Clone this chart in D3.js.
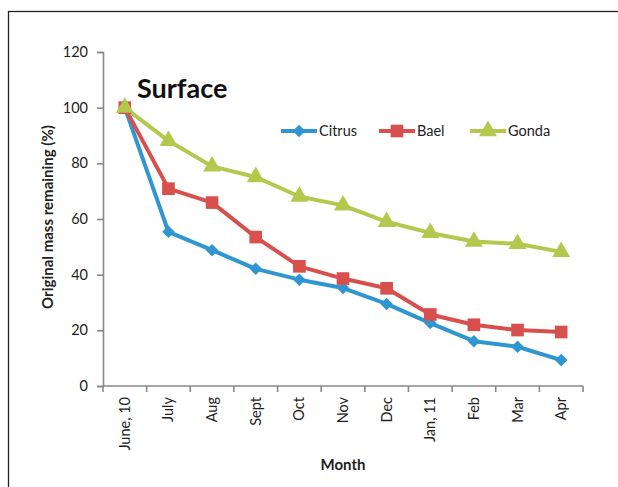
<!DOCTYPE html>
<html>
<head>
<meta charset="utf-8">
<script src="https://cdn.jsdelivr.net/npm/d3@7"></script>
<style>
  body { margin: 0; background: #fff; }
  text { font-family: Lato, "Open Sans", sans-serif; }
</style>
</head>
<body>
<div id="chart"></div>
<script>
// data
const months = ['June, 10', 'July', 'Aug', 'Sept', 'Oct', 'Nov', 'Dec', 'Jan, 11', 'Feb', 'Mar', 'Apr'];
const citrus = [100, 55.4, 48.8, 42.1, 38.2, 35.2, 29.5, 22.6, 16.1, 14.1, 9.3];
const bael = [100, 70.9, 65.9, 53.5, 43.0, 38.6, 35.1, 25.7, 22.0, 20.1, 19.4];
const gonda = [100, 88.1, 78.9, 75.1, 68.1, 64.9, 59.0, 55.0, 51.9, 51.1, 48.2];
const yTicks = [0, 20, 40, 60, 80, 100, 120];

const series = [
  {name: 'Citrus', values: citrus, color: '#2F96D2', symbol: 'diamond'},
  {name: 'Bael', values: bael, color: '#D8504D', symbol: 'square'},
  {name: 'Gonda', values: gonda, color: '#B2C94E', symbol: 'triangle'}
];

const width = 618, height = 487;
const margin = {top: 52, right: 35, bottom: 101, left: 103};

const svg = d3.select('#chart').append('svg')
  .attr('width', width)
  .attr('height', height);

// outer frame
svg.append('rect')
  .attr('x', 8.5).attr('y', 11.5)
  .attr('width', 640).attr('height', 500)
  .attr('fill', 'none')
  .attr('stroke', '#222')
  .attr('stroke-width', 1.3);

const x = d3.scaleBand().domain(months).range([margin.left, width - margin.right]);
const y = d3.scaleLinear().domain([0, 120]).range([height - margin.bottom, margin.top]);

// y axis
const yAxis = svg.append('g')
  .attr('transform', `translate(${margin.left},0)`)
  .call(d3.axisLeft(y).tickValues(yTicks).tickSize(6).tickPadding(9));
yAxis.select('.domain').attr('stroke', '#888').attr('stroke-width', 1.6);
yAxis.selectAll('.tick line').attr('stroke', '#888').attr('stroke-width', 1.6);
yAxis.selectAll('text').attr('font-size', 14.5).attr('fill', '#222');

// x axis: ticks between categories
const xAxis = svg.append('g')
  .attr('transform', `translate(0,${height - margin.bottom})`);
xAxis.append('line')
  .attr('x1', margin.left).attr('x2', width - margin.right)
  .attr('stroke', '#888').attr('stroke-width', 1.6);
xAxis.selectAll('.tk')
  .data(months.concat(['end']))
  .join('line')
  .attr('x1', (d, i) => margin.left + i * x.step())
  .attr('x2', (d, i) => margin.left + i * x.step())
  .attr('y1', 0).attr('y2', 6)
  .attr('stroke', '#888').attr('stroke-width', 1.6);
xAxis.selectAll('.lbl')
  .data(months)
  .join('text')
  .attr('transform', d => `translate(${x(d) + x.bandwidth() / 2 + 5},11) rotate(-90)`)
  .attr('text-anchor', 'end')
  .attr('font-size', 14.5)
  .attr('fill', '#222')
  .text(d => d);

// axis titles
svg.append('text')
  .attr('transform', `translate(53,217) rotate(-90)`)
  .attr('text-anchor', 'middle')
  .attr('font-size', 15)
  .attr('font-weight', 'bold')
  .attr('fill', '#222')
  .text('Original mass remaining (%)');

svg.append('text')
  .attr('x', (margin.left + width - margin.right) / 2)
  .attr('y', 470)
  .attr('text-anchor', 'middle')
  .attr('font-size', 15)
  .attr('font-weight', 'bold')
  .attr('fill', '#222')
  .text('Month');

// title
svg.append('text')
  .attr('x', 137)
  .attr('y', 98)
  .attr('font-size', 27)
  .attr('font-weight', 'bold')
  .attr('fill', '#111')
  .text('Surface');

const symbolType = {diamond: d3.symbolDiamond2, square: d3.symbolSquare, triangle: d3.symbolTriangle};
const symbolSize = {diamond: 100, square: 160, triangle: 140};

const line = d3.line()
  .x((d, i) => x(months[i]) + x.bandwidth() / 2)
  .y(d => y(d));

series.forEach(s => {
  svg.append('path')
    .datum(s.values)
    .attr('fill', 'none')
    .attr('stroke', s.color)
    .attr('stroke-width', 4)
    .attr('stroke-linejoin', 'round')
    .attr('d', line);
});

series.forEach(s => {
  svg.selectAll(null)
    .data(s.values)
    .join('path')
    .attr('transform', (d, i) => `translate(${x(months[i]) + x.bandwidth() / 2},${y(d)})`)
    .attr('d', d3.symbol().type(symbolType[s.symbol]).size(symbolSize[s.symbol]))
    .attr('fill', s.color);
});

// legend
const legendX = [281, 379, 470];
const legend = svg.selectAll('.legend')
  .data(series)
  .join('g')
  .attr('transform', (d, i) => `translate(${legendX[i]},131)`);
legend.append('line')
  .attr('x1', 0).attr('x2', 36)
  .attr('stroke', d => d.color)
  .attr('stroke-width', 4);
legend.append('path')
  .attr('transform', 'translate(18,0)')
  .attr('d', d => d3.symbol().type(symbolType[d.symbol]).size(symbolSize[d.symbol])())
  .attr('fill', d => d.color);
legend.append('text')
  .attr('x', 38)
  .attr('y', 5)
  .attr('font-size', 14.5)
  .attr('fill', '#222')
  .text(d => d.name);
</script>
</body>
</html>
